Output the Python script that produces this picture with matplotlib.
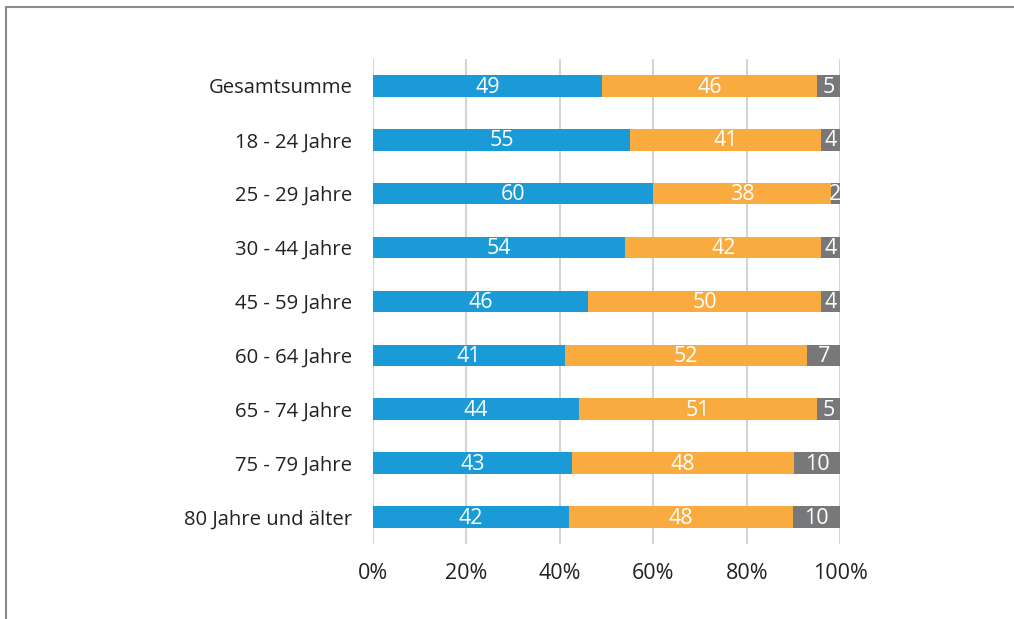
import numpy as np
import matplotlib.pyplot as plt
from matplotlib.lines import Line2D

plt.rcParams["font.family"] = ["Open Sans", "DejaVu Sans"]

# ── Data ──────────────────────────────────────────────────────────────────────
categories = [
    "Gesamtsumme", "18 - 24 Jahre", "25 - 29 Jahre", "30 - 44 Jahre",
    "45 - 59 Jahre", "60 - 64 Jahre", "65 - 74 Jahre", "75 - 79 Jahre",
    "80 Jahre und älter",
]
blue_vals   = [49, 55, 60, 54, 46, 41, 44, 43, 42]
orange_vals = [46, 41, 38, 42, 50, 52, 51, 48, 48]
grey_vals   = [5, 4, 2, 4, 4, 7, 5, 10, 10]
x_ticks = [0, 20, 40, 60, 80, 100]

BLUE   = "#1a9ad6"
ORANGE = "#f9ab40"
GREY   = "#76787a"
GRID   = "#d4d4d4"
TEXT   = "#222222"

# ── Normalise to 100 % ────────────────────────────────────────────────────────
vals = np.array([blue_vals, orange_vals, grey_vals], dtype=float)
share = vals / vals.sum(axis=0) * 100

fig = plt.figure(figsize=(10.14, 6.19), dpi=100, facecolor="white")
ax = fig.add_axes([0.3679, 0.1212, 0.4606, 0.7835])

y = np.arange(len(categories))
left = np.zeros(len(categories))
for row, raw, color in zip(share, vals, [BLUE, ORANGE, GREY]):
    ax.barh(y, row, left=left, height=0.4, color=color, zorder=3)
    for yi, l, w, v in zip(y, left, row, raw):
        ax.text(l + w / 2, yi + 0.02, f"{v:.0f}", ha="center", va="center",
                color="white", fontsize=15.5, zorder=4)
    left += row

ax.set_xlim(0, 100)
ax.set_ylim(len(categories) - 0.5, -0.5)
ax.set_xticks(x_ticks)
ax.set_xticklabels([f"{t}%" for t in x_ticks], fontsize=15.5, color=TEXT)
ax.set_yticks(y)
ax.set_yticklabels(categories, fontsize=14.6, color=TEXT)
ax.tick_params(axis="both", length=0)
ax.tick_params(axis="x", pad=14)
ax.tick_params(axis="y", pad=15)
ax.grid(axis="x", color=GRID, linewidth=1.5, zorder=0)
for s in ax.spines.values():
    s.set_visible(False)

# cropped frame: top and left edges only
fig.add_artist(Line2D([0.006, 1.0], [0.9887, 0.9887], color="#8a8a8a", lw=1.5))
fig.add_artist(Line2D([0.006, 0.006], [0.0, 0.9887], color="#8a8a8a", lw=1.5))

fig.savefig("out.png", dpi=100)
